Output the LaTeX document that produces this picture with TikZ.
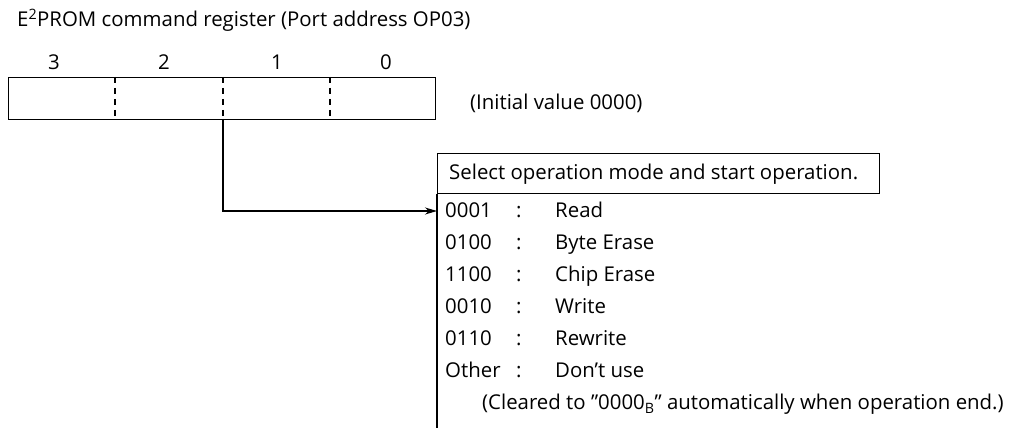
\documentclass[tikz,border=0pt]{standalone}
\usepackage{fontspec}
\setmainfont{Open Sans}
\usetikzlibrary{arrows.meta}
\begin{document}
\begin{tikzpicture}[x=1pt,y=-1pt,
  every node/.style={inner sep=0pt, font=\fontsize{20.4}{24}\selectfont},
  line/.style={line width=1.2pt},
  divider/.style={line width=1.2pt, dash pattern=on 6pt off 5pt},
  rowtxt/.style={anchor=base west},
  bitnum/.style={anchor=base},
  arrowline/.style={line width=1.2pt, -{Stealth[length=12pt,width=7pt]}}
]
\useasboundingbox (0,0) rectangle (1013,430);
% title
\node[anchor=base west] (title) at (17,27) {E\textsuperscript{2}PROM command register (Port address OP03)};
% bit numbers
\node[bitnum] (n3) at (54,70) {3};
\node[bitnum] (n2) at (164,70) {2};
\node[bitnum] (n1) at (277,70) {1};
\node[bitnum] (n0) at (386,70) {0};
% register box
\node[draw, line, anchor=north west, minimum width=427pt, minimum height=42pt] (reg) at (8,77) {};
\coordinate (d1t) at (115,77);
\coordinate (d1b) at (115,119);
\coordinate (d2t) at (223,77);
\coordinate (d2b) at (223,119);
\coordinate (d3t) at (330,77);
\coordinate (d3b) at (330,119);
\draw[divider] (d1t) -- (d1b);
\draw[divider] (d2t) -- (d2b);
\draw[divider] (d3t) -- (d3b);
\node[anchor=base west] (init) at (470,110) {(Initial value 0000)};
% header box
\node[draw, line, anchor=north west, minimum width=442pt, minimum height=40pt] (hdr) at (437,153) {};
\node[anchor=base west] (hdrtext) at (449,180) {Select operation mode and start operation.};
\coordinate (lineend) at (437,428);
\draw[line] (hdr.south west) -- (lineend);
% rows
\node[rowtxt] (c1) at (445,218) {0001};
\node[rowtxt] (k1) at (516,218) {:};
\node[rowtxt] (l1) at (555,218) {Read};
\node[rowtxt] (c2) at (445,250) {0100};
\node[rowtxt] (k2) at (516,250) {:};
\node[rowtxt] (l2) at (555,250) {Byte Erase};
\node[rowtxt] (c3) at (445,282) {1100};
\node[rowtxt] (k3) at (516,282) {:};
\node[rowtxt] (l3) at (555,282) {Chip Erase};
\node[rowtxt] (c4) at (445,314) {0010};
\node[rowtxt] (k4) at (516,314) {:};
\node[rowtxt] (l4) at (555,314) {Write};
\node[rowtxt] (c5) at (445,346) {0110};
\node[rowtxt] (k5) at (516,346) {:};
\node[rowtxt] (l5) at (555,346) {Rewrite};
\node[rowtxt] (c6) at (445,378) {Other};
\node[rowtxt] (k6) at (516,378) {:};
\node[rowtxt] (l6) at (555,378) {Don’t use};
\node[rowtxt] (note) at (482,410) {(Cleared to ”0000\textsubscript{B}” automatically when operation end.)};
% arrow
\coordinate (hit) at (437,211);
\draw[arrowline] (d2b) |- (hit);
\end{tikzpicture}
\end{document}
